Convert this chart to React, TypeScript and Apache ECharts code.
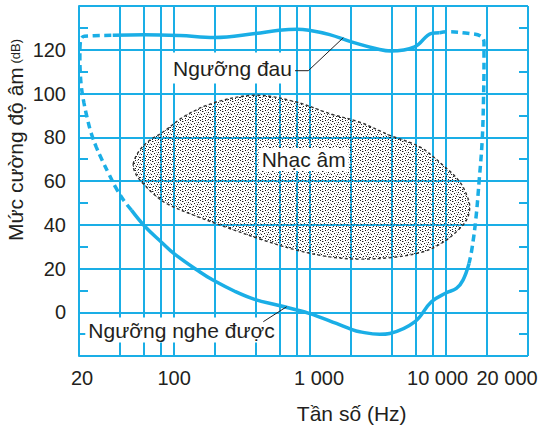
import React, { useEffect, useRef } from 'react';
import * as echarts from 'echarts';

// ---------- data ----------
const xGridFreqs = [20, 40, 60, 80, 100, 200, 400, 600, 800, 1000, 2000, 4000, 6000, 8000, 10000, 20000, 40000];
const xLabelFreqs = [20, 100, 1000, 10000, 20000];
const xLabelTexts = ['20', '100', '1 000', '10 000', '20 000'];
const yLabelValues = [0, 20, 40, 60, 80, 100, 120];
const yMinorTicks = [-10, 10, 30, 50, 70, 90, 110, 130];

// Ngưỡng đau (solid part)
const painFreq = [35.4, 59.8, 110, 198, 394, 591, 801, 982, 1394, 2012, 3243, 3908, 5867, 7820, 8958];
const painDb = [126.6, 126.9, 126.5, 125.6, 127.4, 128.9, 129.4, 128.9, 126.9, 123.6, 120.1, 119.4, 121.3, 127.5, 127.8];

// dashed high-frequency edge (pain -> hearing)
const rightDashFreq = [8958, 10100, 14910, 17960, 18990, 18990, 18830, 18420, 17510, 16510, 15430, 14740];
const rightDashDb = [127.8, 128.2, 127.4, 126.2, 123.4, 115.2, 96.9, 78.6, 60.4, 42.1, 28.4, 22.3];

// Ngưỡng nghe được (solid part)
const hearFreq = [48.6, 61.1, 81.5, 99.4, 154, 193, 279, 391, 591, 982, 1561, 2012, 2316, 3250, 3849, 5876, 7798, 10050, 11900, 13310, 14740];
const hearDb = [46.7, 39.2, 31.8, 26.9, 18.5, 14.7, 9.6, 5.9, 3.1, -0.5, -5.1, -7.8, -8.9, -10.1, -9.7, -4.4, 4.8, 8.9, 10.9, 14.7, 22.3];

// dashed low-frequency edge (hearing -> pain)
const leftDashFreq = [48.6, 42.6, 37.5, 33.1, 29.6, 26.8, 24.6, 23.0, 21.7, 20.8, 20.4, 20.3, 20.4, 20.85, 21.85, 35.4];
const leftDashDb = [46.7, 51.2, 56.7, 63.3, 69.5, 75.5, 81.8, 88.7, 96.0, 103.3, 110.6, 117.5, 122.5, 125.2, 126.2, 126.6];

// Nhạc âm region boundary
const blobFreq = [50.1, 55.9, 66.2, 82.9, 123, 205, 403, 793, 1394, 2317, 3848, 6395, 9487, 12590, 14490, 14910, 14100, 11900, 9233, 6761, 4069, 2312, 1394, 793, 451, 256, 146, 87.8, 70.0, 59.1, 52.8];
const blobDb = [67.7, 74.1, 78.6, 82.4, 90.1, 96.1, 99.2, 96.1, 90.8, 86.9, 80.9, 75.6, 67.2, 59.6, 52.0, 47.4, 42.1, 36.8, 31.5, 27.6, 25.1, 24.3, 25.3, 28.4, 33.0, 38.3, 43.9, 49.7, 54.3, 58.9, 62.7];

// ---------- styles ----------
const BLUE = '#1aaee6';
const TEXT = '#231f20';
const FONT = '"Liberation Sans", Arial, Helvetica, sans-serif';
const xLabelPad = [[0, 0, 0, 6], [0, 0, 0, 0], [0, 0, 0, 18], [0, 17, 0, 0], [0, 0, 0, 40]];
const DARK_DOTS = [[0, 0], [5, 0], [2, 1], [8, 2], [4, 3], [7, 4], [1, 4], [3, 6], [6, 6], [0, 7], [9, 7], [5, 8], [2, 9], [8, 9]];
const GREY_DOTS = [[3, 1], [7, 0], [0, 3], [5, 5], [8, 6], [2, 7], [9, 4], [6, 2]];

const zip = (a: number[], b: number[]) => a.map((v, i) => [v, b[i]]);

export default function App() {
  const ref = useRef<HTMLDivElement>(null);
  useEffect(() => {
    document.body.style.margin = '0';
    const chart = echarts.init(ref.current!, null, { renderer: 'svg' });

    const tile = document.createElement('canvas');
    tile.width = 10;
    tile.height = 10;
    const ctx = tile.getContext('2d')!;
    ctx.fillStyle = '#1a1a1a';
    DARK_DOTS.forEach(([x, y]) => ctx.fillRect(x, y, 1, 1));
    ctx.fillStyle = '#a0a0a0';
    GREY_DOTS.forEach(([x, y]) => ctx.fillRect(x, y, 1, 1));
    const stipple: any = { image: tile.toDataURL(), repeat: 'repeat', imageWidth: 10, imageHeight: 10 };

    const labelIndex = (v: number) =>
      xLabelFreqs.findIndex((f) => Math.abs(Math.log10(f) - Math.log10(v)) < 1e-6);

    const rich: any = {};
    xLabelPad.forEach((p, i) => {
      rich['l' + i] = { fontSize: 20, color: TEXT, fontFamily: FONT, padding: p };
    });

    const curve = (data: number[][], dashed: boolean) => ({
      type: 'line',
      data,
      smooth: 0.4,
      showSymbol: false,
      symbol: 'none',
      clip: false,
      silent: true,
      z: 3,
      lineStyle: { color: BLUE, width: 3.5, type: dashed ? [7, 4.5] : 'solid' },
    });

    const textStyle = (text: string) => ({
      text,
      fontSize: 21,
      fontFamily: FONT,
      fill: TEXT,
      align: 'center',
      verticalAlign: 'middle',
    });

    const option: any = {
      animation: false,
      grid: { left: 79, top: 6, right: 13, bottom: 72 },
      xAxis: {
        type: 'log',
        logBase: 10,
        min: 20,
        max: 40000,
        axisLine: { show: true, lineStyle: { color: BLUE, width: 2 } },
        axisTick: { show: false, customValues: xGridFreqs },
        splitLine: { show: true, lineStyle: { color: BLUE, width: 2 } },
        axisLabel: {
          customValues: xLabelFreqs,
          margin: 12,
          fontSize: 20,
          color: TEXT,
          fontFamily: FONT,
          formatter: (v: number) => {
            const i = labelIndex(v);
            return i < 0 ? '' : '{l' + i + '|' + xLabelTexts[i] + '}';
          },
          rich,
        },
      },
      yAxis: [
        {
          type: 'value',
          min: -20,
          max: 140,
          interval: 20,
          axisLine: { show: true, lineStyle: { color: BLUE, width: 2 } },
          axisTick: { show: false },
          splitLine: { show: true, lineStyle: { color: BLUE, width: 2 } },
          axisLabel: { customValues: yLabelValues, margin: 13, fontSize: 20, color: TEXT, fontFamily: FONT },
        },
        {
          type: 'value',
          min: -20,
          max: 140,
          position: 'left',
          axisLine: { show: false },
          splitLine: { show: false },
          axisLabel: { show: false },
          axisTick: { show: true, inside: true, length: 9, customValues: yMinorTicks, lineStyle: { color: BLUE, width: 2 } },
        },
        {
          type: 'value',
          min: -20,
          max: 140,
          position: 'right',
          axisLine: { show: false },
          splitLine: { show: false },
          axisLabel: { show: false },
          axisTick: { show: true, inside: true, length: 9, customValues: yMinorTicks, lineStyle: { color: BLUE, width: 2 } },
        },
      ],
      series: [
        {
          type: 'custom',
          silent: true,
          z: 1,
          data: [[blobFreq[0], blobDb[0]]],
          renderItem: (_p: any, api: any) => {
            const pts = blobFreq.map((f, i) => api.coord([f, blobDb[i]]));
            return {
              type: 'polygon',
              shape: { points: pts, smooth: 0.35 },
              style: { fill: stipple, stroke: '#333333', lineWidth: 1.4, lineDash: [3, 2.5] },
            };
          },
        },
        curve(zip(painFreq, painDb), false),
        curve(zip(rightDashFreq, rightDashDb), true),
        curve(zip(hearFreq, hearDb), false),
        curve(zip(leftDashFreq, leftDashDb), true),
      ],
      graphic: [
        {
          type: 'text',
          x: 15.5,
          y: 140,
          rotation: Math.PI / 2,
          z: 10,
          style: {
            text: '{a|Mức cường độ âm}{b| (dB)}',
            align: 'center',
            verticalAlign: 'middle',
            rich: {
              a: { fontSize: 21, fontFamily: FONT, fill: TEXT },
              b: { fontSize: 13, fontFamily: FONT, fill: TEXT },
            },
          },
        },
        { type: 'text', x: 351.7, y: 413, z: 10, style: textStyle('Tần số (Hz)') },
        {
          type: 'text',
          x: 232.5,
          y: 68,
          z: 10,
          style: { ...textStyle('Ngưỡng đau'), backgroundColor: '#ffffff', padding: [5, 3, 5, 3] },
        },
        {
          type: 'text',
          x: 303.7,
          y: 159.5,
          z: 10,
          style: { ...textStyle('Nhạc âm'), backgroundColor: '#ffffff', padding: [1, 3, 1, 3] },
        },
        {
          type: 'text',
          x: 181.5,
          y: 330,
          z: 10,
          style: { ...textStyle('Ngưỡng nghe được'), backgroundColor: '#ffffff', padding: [2, 3, 2, 3] },
        },
        {
          type: 'polyline',
          z: 10,
          shape: { points: [[295, 70.7], [308.3, 70.7], [343.3, 37.7]] },
          style: { stroke: TEXT, lineWidth: 1, fill: null },
        },
        {
          type: 'line',
          z: 10,
          shape: { x1: 263.3, y1: 321.7, x2: 286.7, y2: 306.7 },
          style: { stroke: TEXT, lineWidth: 1 },
        },
      ],
    };
    chart.setOption(option);
    return () => chart.dispose();
  }, []);
  return <div ref={ref} style={{ width: 541, height: 428 }} />;
}
